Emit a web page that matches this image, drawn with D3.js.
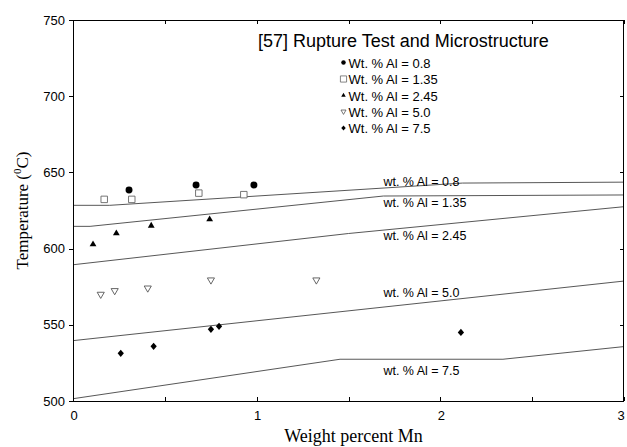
<!DOCTYPE html>
<html>
<head>
<meta charset="utf-8">
<script src="https://cdn.jsdelivr.net/npm/d3@7"></script>
<style>
  body { margin: 0; background: #fff; }
  text { font-family: "Liberation Sans", Arial, sans-serif; }
  .serif { font-family: "Liberation Serif", "Times New Roman", serif; }
</style>
</head>
<body>
<div id="chart"></div>
<script>
// measured points, Mn wt% vs temperature
var al08 = [[0.305, 638.5], [0.67, 641.7], [0.985, 641.7]];
var al135 = [[0.17, 632.3], [0.32, 632.3], [0.685, 636.4], [0.93, 635.4]];
var al245 = [[0.109, 602.8], [0.236, 610], [0.426, 615], [0.744, 619.2]];
var al50 = [[0.151, 570], [0.227, 572.4], [0.407, 574.1], [0.751, 579.4], [1.325, 579.4]];
var al75 = [[0.26, 531.3], [0.439, 535.9], [0.751, 547], [0.795, 549], [2.112, 545]];

// calculated curves
var curve08 = [[0, 628.4], [0.2, 628.4], [2.12, 643], [3, 643.6]];
var curve135 = [[0, 614.6], [0.093, 614.6], [1.69, 634.5], [3, 635.2]];
var curve245 = [[0, 589.4], [1.5, 609.9], [3, 627.5]];
var curve50 = [[0, 539.6], [3, 578.7]];
var curve75 = [[0, 501.5], [1.454, 527.4], [2.341, 527.4], [3, 535.7]];

var curveLabels = ["wt. % Al = 0.8", "wt. % Al = 1.35", "wt. % Al = 2.45", "wt. % Al = 5.0", "wt. % Al = 7.5"];
var curveLabelAt = [[1.69, 641.1], [1.69, 627.5], [1.69, 605.6], [1.69, 568.4], [1.69, 517]];
var legendLabels = ["Wt. % Al = 0.8", "Wt. % Al = 1.35", "Wt. % Al = 2.45", "Wt. % Al = 5.0", "Wt. % Al = 7.5"];

var xMajor = [0, 1, 2, 3];
var xMinor = [0.5, 1.5, 2.5];
var yTicks = [500, 550, 600, 650, 700, 750];

var W = 627, H = 447;
var margin = {left: 73, top: 20, right: 3, bottom: 46};
var width = W - margin.left - margin.right,
    height = H - margin.top - margin.bottom;

var svg = d3.select("#chart").append("svg")
  .attr("width", W)
  .attr("height", H);

var g = svg.append("g")
  .attr("transform", "translate(" + margin.left + "," + margin.top + ")");

var x = d3.scaleLinear().domain([0, 3]).range([0, width]);
var y = d3.scaleLinear().domain([500, 750]).range([height, 0]);

// custom symbols
var invTriangle = {
  draw: function(ctx, size) {
    var s = Math.sqrt(size / (Math.sqrt(3) / 4));
    var h = s * Math.sqrt(3) / 2;
    ctx.moveTo(-s / 2, -h / 3);
    ctx.lineTo(s / 2, -h / 3);
    ctx.lineTo(0, 2 * h / 3);
    ctx.closePath();
  }
};
var fatDiamond = {
  draw: function(ctx, size) {
    var a = Math.sqrt(size / 2);
    ctx.moveTo(0, -a * 1.1);
    ctx.lineTo(a * 0.95, 0);
    ctx.lineTo(0, a * 1.1);
    ctx.lineTo(-a * 0.95, 0);
    ctx.closePath();
  }
};

var series = [
  {pts: al08, type: d3.symbolCircle, size: 38, legSize: 16, fill: "#000", stroke: "none"},
  {pts: al135, type: d3.symbolSquare, size: 42, legSize: 38, fill: "#fff", stroke: "#666"},
  {pts: al245, type: d3.symbolTriangle, size: 20, legSize: 9, fill: "#000", stroke: "none"},
  {pts: al50, type: invTriangle, size: 22, legSize: 11, fill: "#fff", stroke: "#555"},
  {pts: al75, type: fatDiamond, size: 22, legSize: 11, fill: "#000", stroke: "none"}
];

// curves
var line = d3.line().x(function(d) { return x(d[0]); }).y(function(d) { return y(d[1]); });
[curve08, curve135, curve245, curve50, curve75].forEach(function(c) {
  g.append("path")
    .attr("d", line(c))
    .attr("fill", "none")
    .attr("stroke", "#444")
    .attr("stroke-width", 0.9);
});

g.selectAll(".clabel")
  .data(curveLabels)
  .enter().append("text")
  .attr("class", "clabel")
  .attr("x", function(d, i) { return x(curveLabelAt[i][0]); })
  .attr("y", function(d, i) { return y(curveLabelAt[i][1]); })
  .attr("font-size", "12.5px")
  .attr("fill", "#000")
  .text(function(d) { return d; });

// points
series.forEach(function(s) {
  g.selectAll(null)
    .data(s.pts)
    .enter().append("path")
    .attr("transform", function(d) { return "translate(" + x(d[0]) + "," + y(d[1]) + ")"; })
    .attr("d", d3.symbol().type(s.type).size(s.size))
    .attr("fill", s.fill)
    .attr("stroke", s.stroke)
    .attr("stroke-width", 0.9);
});

// frame
g.append("rect")
  .attr("x", 0.5).attr("y", 0.5)
  .attr("width", width - 1).attr("height", height)
  .attr("fill", "none")
  .attr("stroke", "#000")
  .attr("stroke-width", 1);

// x ticks, inside at bottom and top
var xAll = xMajor.concat(xMinor);
xAll.forEach(function(v) {
  var px = Math.round(x(v)) + 0.5;
  g.append("line").attr("x1", px).attr("x2", px).attr("y1", height).attr("y2", height - 4).attr("stroke", "#000");
  g.append("line").attr("x1", px).attr("x2", px).attr("y1", 0).attr("y2", 4).attr("stroke", "#000");
});
g.selectAll(".xlab")
  .data(xMajor)
  .enter().append("text")
  .attr("x", function(d) { return Math.min(x(d) + 1, width - 3); })
  .attr("y", height + 18.5)
  .attr("text-anchor", "middle")
  .attr("font-size", "13px")
  .text(function(d) { return d; });

// y ticks, outside left, inside right
yTicks.forEach(function(v) {
  var py = Math.round(y(v)) + 0.5;
  g.append("line").attr("x1", -4).attr("x2", 0).attr("y1", py).attr("y2", py).attr("stroke", "#000");
  g.append("line").attr("x1", width - 4).attr("x2", width).attr("y1", py).attr("y2", py).attr("stroke", "#000");
});
g.selectAll(".ylab")
  .data(yTicks)
  .enter().append("text")
  .attr("x", -8)
  .attr("y", function(d) { return y(d); })
  .attr("dy", "0.35em")
  .attr("text-anchor", "end")
  .attr("font-size", "13px")
  .text(function(d) { return d; });

// axis titles
svg.append("text")
  .attr("class", "serif")
  .attr("x", margin.left + width / 2 + 5)
  .attr("y", 442)
  .attr("text-anchor", "middle")
  .attr("font-size", "18px")
  .text("Weight percent Mn");

var yt = svg.append("text")
  .attr("class", "serif")
  .attr("transform", "translate(28," + (margin.top + height / 2) + ") rotate(-90)")
  .attr("text-anchor", "middle")
  .attr("font-size", "17px");
yt.append("tspan").text("Temperature (");
yt.append("tspan").attr("font-size", "11px").attr("dy", "-7").text("0");
yt.append("tspan").attr("dy", "7").text("C)");

// legend
svg.append("text")
  .attr("x", 258)
  .attr("y", 47)
  .attr("font-size", "18px")
  .text("[57] Rupture Test and Microstructure");

var legY = [63, 79.5, 96, 112, 128.5];
series.forEach(function(s, i) {
  svg.append("path")
    .attr("transform", "translate(343.5," + (legY[i] - 0.5) + ")")
    .attr("d", d3.symbol().type(s.type).size(s.legSize))
    .attr("fill", s.fill)
    .attr("stroke", s.stroke)
    .attr("stroke-width", 0.8);
  svg.append("text")
    .attr("x", 348.5)
    .attr("y", legY[i] + 4.5)
    .attr("font-size", "13px")
    .text(legendLabels[i]);
});
</script>
</body>
</html>
